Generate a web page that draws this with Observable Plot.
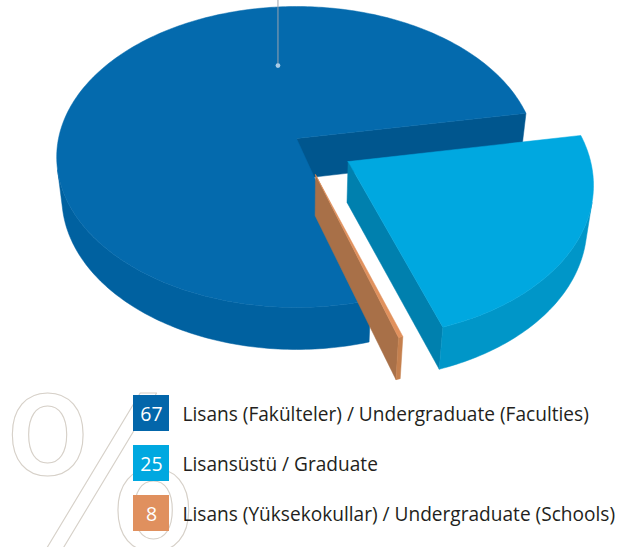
<!DOCTYPE html>
<html><head><meta charset="utf-8">
<script src="https://cdn.jsdelivr.net/npm/d3@7"></script>
<script src="https://cdn.jsdelivr.net/npm/@observablehq/plot@0.6"></script>
<style>
  html,body{margin:0;padding:0;background:#fff;}
  #chart{width:618px;height:547px;overflow:hidden;}
  #chart svg{display:block;}
</style>
</head><body><div id="chart"></div>
<script>
// ---- data ----
const categories = [
  "Lisans (Fakülteler) / Undergraduate (Faculties)",
  "Lisansüstü / Graduate",
  "Lisans (Yüksekokullar) / Undergraduate (Schools)"
];
const percentages = [67, 25, 8];
// the artwork's wedges are not drawn to scale; these are the sweeps as drawn (degrees), per category
const drawnSweepDeg = [276, 81.4, 1.0];
const angularOrder = [0, 2, 1]; // counter-clockwise order of the wedges

// ---- styles / layout ----
const palette = [
  {top: "#046AAD", wall: "#0061A0", face: "#00568E", key: "#0366AA"},
  {top: "#00A8E0", wall: "#0096C8", face: "#0080AE", key: "#00A8E0"},
  {top: "#E1915D", wall: "#C5804E", face: "#A87048", key: "#E0905E"}
];
const explode = [0, 0.262, 0.25];
const explodeTurnDeg = [0, -5, 0];
const gapBeforeDeg = [0, 0, 1.6];
const radiusScale = [1, 1, 0.96];

// ---- simple perspective for the 3D pie ----
const W = 618, H = 547;
const deg = Math.PI / 180;
const sinP = 0.6228, cosP = Math.sqrt(1 - sinP * sinP);
const view = {cx: 296, cy: 138, F: 1516, D: 6.37, thick: 0.2225};
function project(x, y, z) {
  const d = y * cosP - z * sinP + view.D;
  const up = y * sinP + z * cosP;
  return [view.cx + view.F * x / d, view.cy - view.F * up / d];
}
const cam = [0, -view.D * cosP, view.D * sinP];

const startDeg = 10;
const rows = [];
let fid = 0;
function addFace(pts, color) {
  const id = fid++;
  pts.concat([pts[0]]).forEach(([x, y]) => rows.push({id, x, y, color}));
}
let acc = startDeg;
const sliceGeom = [];
angularOrder.forEach(ci => {
  acc += gapBeforeDeg[ci];
  const a0 = acc * deg, a1 = (acc + drawnSweepDeg[ci]) * deg;
  acc += drawnSweepDeg[ci];
  sliceGeom[ci] = {a0, a1};
});
// paint back to front: faculties, schools, graduate
[0, 2, 1].forEach(ci => {
  const {a0, a1} = sliceGeom[ci];
  const mid = (a0 + a1) / 2 + explodeTurnDeg[ci] * deg;
  const ex = explode[ci] * Math.cos(mid), ey = explode[ci] * Math.sin(mid);
  const R = radiusScale[ci], h = view.thick;
  const col = palette[ci];
  const P = (a, r, z) => project(ex + r * Math.cos(a), ey + r * Math.sin(a), z);
  const steps = Math.max(2, Math.ceil((a1 - a0) / deg));
  const angles = d3.range(steps + 1).map(k => a0 + (a1 - a0) * k / steps);
  const n0 = [Math.sin(a0), -Math.cos(a0)], n1 = [-Math.sin(a1), Math.cos(a1)];
  const vis = n => n[0] * (cam[0] - ex) + n[1] * (cam[1] - ey) > 0;
  if (vis(n0)) addFace([P(a0, 0, 0), P(a0, R, 0), P(a0, R, -h), P(a0, 0, -h)], col.face);
  if (vis(n1)) addFace([P(a1, 0, 0), P(a1, R, 0), P(a1, R, -h), P(a1, 0, -h)], col.face);
  const wallVis = a => -ex * Math.cos(a) - ey * Math.sin(a) - R + Math.sin(a) * cam[1] > 0;
  let run = [];
  const flush = () => {
    if (run.length > 1) addFace(run.map(a => P(a, R, 0)).concat(run.slice().reverse().map(a => P(a, R, -h))), col.wall);
    run = [];
  };
  angles.forEach(a => { if (wallVis(a)) run.push(a); else flush(); });
  flush();
  addFace([P(0, 0, 0)].concat(angles.map(a => P(a, R, 0))), col.top);
});

// leader line anchor on the faculties wedge
const anchor = (() => { const [x, y] = project(0.53 * Math.cos(99 * deg), 0.53 * Math.sin(99 * deg), 0); return {x, y, top: 0}; })();

// legend layout
const legend = categories.map((name, i) => ({
  name, value: String(percentages[i]), color: palette[i].key,
  x1: 133, x2: 169, y1: 395 + i * 50, y2: 431 + i * 50, ym: 413 + i * 50
}));

const chart = Plot.plot({
  width: W, height: H, margin: 0,
  x: {domain: [0, W], range: [0, W], axis: null},
  y: {domain: [0, H], range: [0, H], axis: null},
  color: {type: "identity"},
  style: {background: "transparent", overflow: "hidden"},
  marks: [
    Plot.text(["%"], {x: () => 100, y: () => 481, text: d => d, fontSize: 210, fontFamily: "DejaVu Sans", fill: "none",
      stroke: "#D6D0C8", strokeWidth: 1.1, textAnchor: "middle", lineAnchor: "middle"}),
    Plot.line(rows, {x: "x", y: "y", z: "id", fill: "color", stroke: "color", strokeWidth: 0.5, curve: "linear"}),
    Plot.ruleX([anchor], {x: "x", y1: "top", y2: "y", stroke: "#9AA4AE", strokeWidth: 1}),
    Plot.dot([anchor], {x: "x", y: "y", r: 2.4, fill: "#A8CBE6", stroke: "none"}),
    Plot.rect(legend, {x1: "x1", x2: "x2", y1: "y1", y2: "y2", fill: "color"}),
    Plot.text(legend, {x: d => (d.x1 + d.x2) / 2, y: "ym", text: "value", fill: "white", fontSize: 19.5, fontFamily: "Open Sans", textAnchor: "middle", dy: 1}),
    Plot.text(legend, {x: d => d.x2 + 13, y: "ym", text: "name", fill: "#231F20", fontSize: 19.1, fontFamily: "Open Sans", textAnchor: "start", dy: 1})
  ]
});
document.getElementById("chart").appendChild(chart);
</script>
</body></html>
